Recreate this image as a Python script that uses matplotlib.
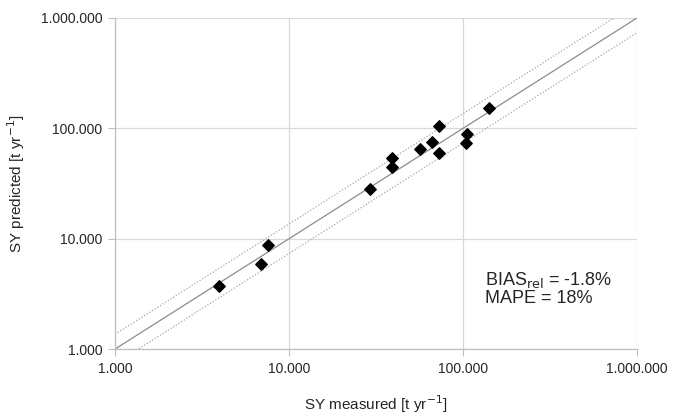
import matplotlib
matplotlib.use("Agg")
import matplotlib.pyplot as plt
import numpy as np

plt.rcParams['font.family'] = ['Liberation Sans', 'DejaVu Sans']

# measured vs predicted sediment yield [t/yr]
sy_measured = [3980, 6860, 7570, 29300, 39100, 39100, 56600, 66100, 72300, 72600, 105700, 104700, 141600]
sy_predicted = [3710, 5920, 8770, 28100, 44400, 53800, 65200, 74800, 105700, 59200, 88900, 73800, 152500]

tick_values = [1000, 10000, 100000, 1000000]
tick_labels = ["1.000", "10.000", "100.000", "1.000.000"]
band_factor = 1.36

fig = plt.figure(figsize=(6.73, 4.18), dpi=100)
ax = fig.add_axes([0.171, 0.165, 0.7755, 0.792])

ax.set_xscale('log')
ax.set_yscale('log')
ax.set_xlim(1000, 1000000)
ax.set_ylim(1000, 1000000)

# 1:1 line and band
line_x = np.array([1000, 1000000])
ax.plot(line_x, line_x, color='#8c8c8c', lw=0.9, zorder=2)
ax.plot(line_x, line_x * band_factor, color='#a6a6a6', lw=0.9, ls=(0, (1, 1.5)), zorder=2)
ax.plot(line_x, line_x / band_factor, color='#a6a6a6', lw=0.9, ls=(0, (1, 1.5)), zorder=2)

ax.scatter(sy_measured, sy_predicted, marker='D', s=34, color='black', zorder=3)

ax.set_xticks(tick_values)
ax.set_xticklabels(tick_labels)
ax.set_yticks(tick_values)
ax.set_yticklabels(tick_labels)
ax.minorticks_off()
ax.tick_params(which='major', length=5, width=0.8, color='#bfbfbf', labelsize=10, labelcolor='#262626', pad=4)

ax.grid(True, color='#d9d9d9', lw=0.9)
ax.set_axisbelow(True)
for side in ['top', 'right']:
    ax.spines[side].set_visible(False)
for side in ['left', 'bottom']:
    ax.spines[side].set_color('#bfbfbf')
    ax.spines[side].set_linewidth(0.9)

ax.set_xlabel('SY measured [t yr$^{\\mathrm{-1}}$]', fontsize=11, color='#262626')
ax.set_ylabel('SY predicted [t yr$^{\\mathrm{-1}}$]', fontsize=11, color='#262626')
ax.xaxis.set_label_coords(0.5, -0.135)
ax.yaxis.set_label_coords(-0.168, 0.5)

ax.text(0.709, 0.24, 'BIAS$_{\\mathrm{rel}}$ = -1.8%\nMAPE = 18%', transform=ax.transAxes,
        fontsize=13, color='#262626', va='top', ha='left', linespacing=1.05)

fig.savefig('out.png', dpi=100)
